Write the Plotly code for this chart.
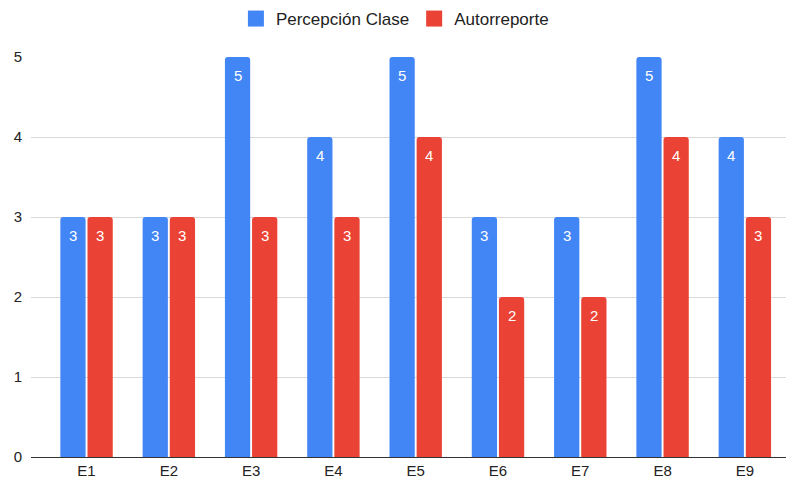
import plotly.graph_objects as go

# Datos por estudiante
estudiantes = ["E1", "E2", "E3", "E4", "E5", "E6", "E7", "E8", "E9"]
percepcion_clase = [3, 3, 5, 4, 5, 3, 3, 5, 4]
autorreporte = [3, 3, 3, 3, 4, 2, 2, 4, 3]

AZUL = "#4285F4"
ROJO = "#EA4335"
FUENTE = "Liberation Sans, Arial, sans-serif"

BARGAP = 0.34
BARGROUPGAP = 0.07
X_RANGE = [-0.675, 8.5]
MARGIN = dict(l=31, r=1, t=55, b=27)
ANCHO, ALTO = 787, 484

series = [
    ("Percepción Clase", percepcion_clase, AZUL),
    ("Autorreporte", autorreporte, ROJO),
]

fig = go.Figure()
for nombre, valores, color in series:
    fig.add_trace(go.Bar(
        name=nombre,
        x=estudiantes,
        y=valores,
        marker=dict(color=color, line=dict(width=0)),
        showlegend=False,
        hoverinfo="x+y+name",
    ))
    # Entrada de leyenda con cuadro más grande
    fig.add_trace(go.Scatter(
        name=nombre,
        x=[None],
        y=[None],
        mode="markers",
        marker=dict(symbol="square", size=16, color=color),
        showlegend=True,
    ))

# Etiquetas de valor dentro de cada barra, cerca del extremo superior
px_por_categoria = (ANCHO - MARGIN["l"] - MARGIN["r"]) / (X_RANGE[1] - X_RANGE[0])
ancho_ranura = px_por_categoria * (1 - BARGAP) / len(series)
for k, (nombre, valores, color) in enumerate(series):
    desplazamiento = (k - (len(series) - 1) / 2) * ancho_ranura
    for cat, v in zip(estudiantes, valores):
        fig.add_annotation(
            x=cat,
            y=v,
            xref="x",
            yref="y",
            text=str(v),
            showarrow=False,
            xshift=desplazamiento,
            yshift=-18,
            font=dict(color="white", size=15, family=FUENTE),
        )

fig.update_layout(
    width=ANCHO,
    height=ALTO,
    margin=MARGIN,
    paper_bgcolor="white",
    plot_bgcolor="white",
    barmode="group",
    bargap=BARGAP,
    bargroupgap=BARGROUPGAP,
    barcornerradius=3,
    font=dict(family=FUENTE, size=15, color="#222222"),
    showlegend=True,
    legend=dict(
        orientation="h",
        x=0.482,
        xanchor="center",
        y=1.095,
        yanchor="middle",
        font=dict(size=17, color="#222222", family=FUENTE),
        itemwidth=30,
    ),
)

fig.update_xaxes(
    type="category",
    range=X_RANGE,
    showgrid=False,
    showline=True,
    linecolor="#333333",
    linewidth=1,
    ticks="",
    tickfont=dict(size=15, color="#222222"),
    zeroline=False,
)

fig.update_yaxes(
    range=[0, 5],
    dtick=1,
    showgrid=True,
    gridcolor="#d9d9d9",
    gridwidth=1,
    zeroline=False,
    showline=False,
    ticks="",
    ticklabelstandoff=8,
    tickfont=dict(size=15, color="#222222"),
)

fig.write_html("out.html")
